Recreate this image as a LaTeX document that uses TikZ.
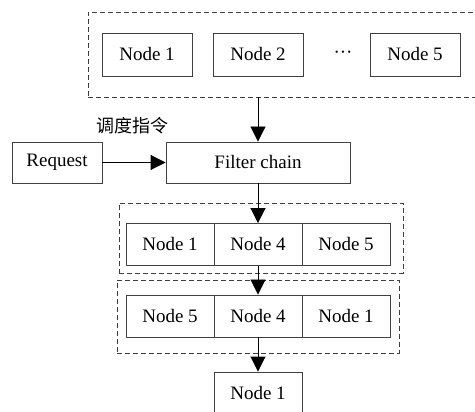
\documentclass[tikz,border=0pt]{standalone}
\usepackage{fontspec}
\setmainfont{Liberation Serif}
\newfontfamily\cjk{Noto Sans CJK SC}
\usetikzlibrary{arrows.meta}
\begin{document}
\begin{tikzpicture}
  [x=1pt, y=-1pt,
   every node/.style={font=\fontsize{19}{23}\selectfont},
   box/.style={draw=black!75, line width=0.9pt, inner sep=0pt,
               minimum width=90pt, minimum height=43pt},
   cell/.style={box, minimum width=88pt, minimum height=42pt},
   group/.style={draw=black!75, line width=0.8pt, dash pattern=on 5pt off 3pt,
                 inner sep=0pt},
   arr/.style={draw=black, line width=0.9pt,
               -{Triangle[length=15pt, width=15pt]}}]
  \clip (0,0) rectangle (475,412);
  % candidate nodes
  \node[group, minimum width=402pt, minimum height=85pt] (pool) at (289,54.5) {};
  \node[box] (p1) at (147,54.5) {Node 1};
  \node[box] (p2) at (258,54.5) {Node 2};
  \node (dots) at (343,54.5) {\textperiodcentered\textperiodcentered\textperiodcentered};
  \node[box] (p5) at (415,54.5) {Node 5};
  % request and filter
  \node[box, minimum height=41pt] (request) at (57,162.5) {Request};
  \node[box, minimum width=184pt, minimum height=41pt] (filter) at (258,162.5) {Filter chain};
  \node[font=\fontsize{18}{22}\selectfont] (cmd) at (132,126) {\cjk 调度指令};
  % filtered
  \node[group, minimum width=284pt, minimum height=70pt] (first) at (261,238) {};
  \node[cell] (a1) at (170,244.5) {Node 1};
  \node[cell] (a4) at (258,244.5) {Node 4};
  \node[cell] (a5) at (346,244.5) {Node 5};
  % sorted
  \node[group, minimum width=282pt, minimum height=73pt] (second) at (258,316.5) {};
  \node[cell] (b5) at (170,316) {Node 5};
  \node[cell] (b4) at (258,316) {Node 4};
  \node[cell] (b1) at (346,316) {Node 1};
  % chosen
  \node[cell] (pick) at (258,393) {Node 1};
  \draw[arr] (filter.north |- pool.south) -- (filter.north);
  \draw[arr] (request.east) -- (filter.west);
  \draw[arr] (filter.south) -- (a4.north);
  \draw[arr] (a4.south) -- (b4.north);
  \draw[arr] (b4.south) -- (pick.north);
\end{tikzpicture}
\end{document}
